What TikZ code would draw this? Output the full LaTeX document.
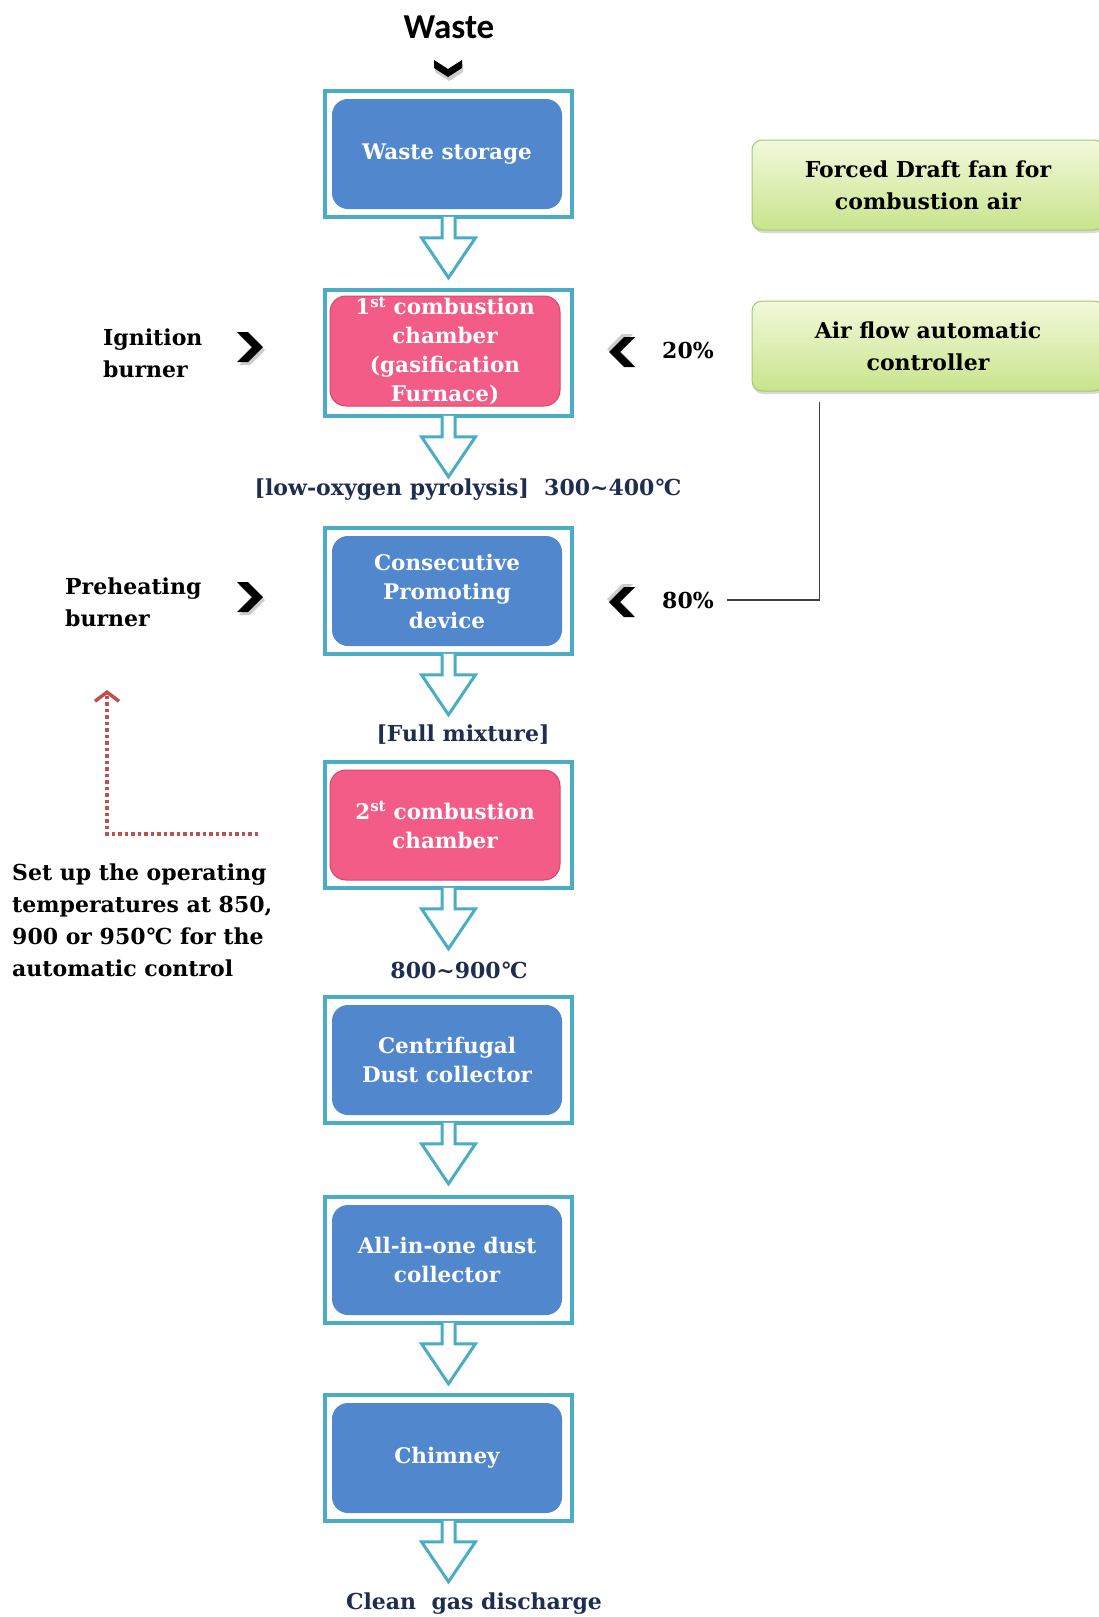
\documentclass[tikz,border=0pt]{standalone}
\usepackage{fontspec}
\setmainfont{DejaVu Serif}
\newfontfamily\titlefont{Carlito}
\usetikzlibrary{arrows.meta,shadows}

\definecolor{framecol}{RGB}{75,172,198}
\definecolor{boxblue}{RGB}{80,135,205}
\definecolor{boxpink}{RGB}{242,92,134}
\definecolor{pinkedge}{RGB}{214,70,108}
\definecolor{navy}{RGB}{31,45,80}
\definecolor{greentop}{RGB}{242,249,220}
\definecolor{greenbot}{RGB}{200,228,140}
\definecolor{greenedge}{RGB}{165,200,110}
\definecolor{tempred}{RGB}{192,80,77}

\tikzset{
  frame/.style={draw=framecol, line width=3.5pt,
    minimum width=247pt, minimum height=126pt, inner sep=0pt},
  stepbox/.style={rounded corners=16pt, minimum width=230pt,
    minimum height=110pt, text=white, align=center, inner sep=0pt,
    font=\bfseries\fontsize{21.5}{29}\selectfont},
  bluebox/.style={stepbox, fill=boxblue},
  pinkbox/.style={stepbox, fill=boxpink, draw=pinkedge, line width=1pt},
  flowlabel/.style={text=navy, font=\bfseries\fontsize{22}{29}\selectfont},
  sidelabel/.style={font=\bfseries\fontsize{22}{32}\selectfont,
    align=left, inner sep=0pt},
  greenbox/.style={draw=greenedge, line width=1pt, rounded corners=10pt,
    top color=greentop, bottom color=greenbot,
    minimum width=352pt, minimum height=90pt, align=center,
    font=\bfseries\fontsize{22}{32}\selectfont,
    drop shadow={opacity=0.3, shadow xshift=1pt, shadow yshift=-3pt}},
  flowarrow/.style={draw=framecol, line width=3pt, fill=white},
  ctrlline/.style={draw=black!75, line width=1.5pt},
  templine/.style={draw=tempred, line width=3.5pt,
    dash pattern=on 3.5pt off 3pt, -{Straight Barb[length=9pt,width=24pt]}},
  chevr/.pic={
    \fill[black!40, opacity=.5] (-11,-12) -- (0,-12) -- (15,3) -- (0,18)
      -- (-11,18) -- (4,3) -- cycle;
    \fill[black] (-13,-15) -- (-2,-15) -- (13,0) -- (-2,15) -- (-13,15)
      -- (2,0) -- cycle;
  }
}

% hollow block arrow hanging below a frame
\newcommand{\flowarrow}[1]{%
  \draw[flowarrow] ([xshift=-6.5pt,yshift=2pt]#1.south) -- ++(0,21)
    -- ++(-20.5,0) -- ++(27,40) -- ++(27,-40) -- ++(-20.5,0) -- ++(0,-21);}

\begin{document}
\begin{tikzpicture}[x=1pt, y=-1pt]
  \useasboundingbox (0,0) rectangle (1099,1617);

  \node[font=\titlefont\bfseries\fontsize{35}{40}\selectfont] (waste) at (449,27) {Waste};
  \fill[black!40, opacity=.5] (435,64) -- (449,73) -- (463,64) -- (463,72)
    -- (449,81) -- (435,72) -- cycle;
  \fill[black] (434,60) -- (448,69) -- (462,60) -- (462,68) -- (448,77)
    -- (434,68) -- cycle;

  % frames
  \node[frame] (f1) at (448.5,154) {};
  \node[frame] (f2) at (448.5,353) {};
  \node[frame] (f3) at (448.5,591) {};
  \node[frame] (f4) at (448.5,825) {};
  \node[frame] (f5) at (448.5,1060) {};
  \node[frame] (f6) at (448.5,1260) {};
  \node[frame] (f7) at (448.5,1458) {};

  \node[bluebox] (storage) at (447,154) {Waste storage};
  \node[pinkbox] (chamber1) at (445,351) {1\textsuperscript{st} combustion\\chamber\\(gasification\\Furnace)};
  \node[bluebox] (promote) at (447,591) {Consecutive\\Promoting\\device};
  \node[pinkbox] (chamber2) at (445,825) {2\textsuperscript{st} combustion\\chamber};
  \node[bluebox] (cyclone) at (447,1060) {Centrifugal\\Dust collector};
  \node[bluebox] (allinone) at (447,1260) {All-in-one dust\\collector};
  \node[bluebox] (chimney) at (447,1458) {Chimney};

  \flowarrow{f1}
  \flowarrow{f2}
  \flowarrow{f3}
  \flowarrow{f4}
  \flowarrow{f5}
  \flowarrow{f6}
  \flowarrow{f7}

  \node[flowlabel] (pyro) at (468,490) {[low-oxygen pyrolysis]\ \ 300\textasciitilde400°\kern-.08em C};
  \node[flowlabel] (mix) at (463,735) {[Full mixture]};
  \node[flowlabel] (temp2) at (459,970) {800\textasciitilde900°\kern-.08em C};
  \node[flowlabel] (clean) at (474,1604) {Clean\ \ gas discharge};

  % burners and air
  \node[sidelabel, anchor=west] (ignite) at (103,353) {Ignition\\burner};
  \node[sidelabel, anchor=west] (preheat) at (65,602) {Preheating\\burner};
  \pic at (250,347) {chevr};
  \pic at (250,597) {chevr};
  \pic[rotate=180] at (622,352) {chevr};
  \pic[rotate=180] at (622,602) {chevr};
  \node[font=\bfseries\fontsize{22}{24}\selectfont] (p20) at (688,350) {20\%};
  \node[font=\bfseries\fontsize{22}{24}\selectfont] (p80) at (688,600) {80\%};

  \node[greenbox] (fan) at (928,185) {Forced Draft fan for\\combustion air};
  \node[greenbox] (airflow) at (928,346) {Air flow automatic\\controller};
  \draw[ctrlline] ([xshift=68pt,yshift=-10pt]airflow.south west) |- ([xshift=10pt]p80.east);

  % temperature setting
  \node[sidelabel, anchor=west] (setup) at (12,920)
    {Set up the operating\\temperatures at 850,\\900 or 950°\kern-.08em C for the\\automatic control};
  \coordinate (tempA) at (258,834);
  \coordinate (tempB) at (107,690);
  \draw[templine] (tempA) -| (tempB);
\end{tikzpicture}
\end{document}
